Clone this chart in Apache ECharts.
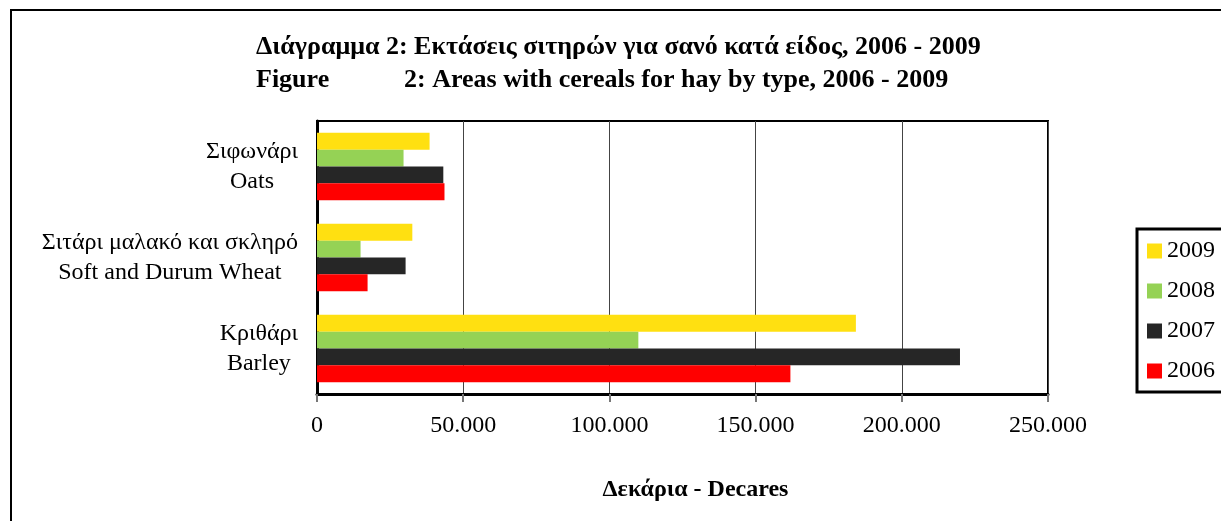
<!DOCTYPE html>
<html>
<head>
<meta charset="utf-8">
<script src="https://cdn.jsdelivr.net/npm/echarts@6/dist/echarts.min.js"></script>
<style>
  html, body { margin: 0; padding: 0; background: #fff; }
  #main { width: 1221px; height: 521px; }
</style>
</head>
<body>
<div id="main"></div>
<script>
// κατηγορίες (από κάτω προς τα πάνω)
var categories = ['Κριθάρι\nBarley', 'Σιτάρι μαλακό και σκληρό\nSoft and Durum Wheat', 'Σιφωνάρι\nOats'];
var years = ['2009', '2008', '2007', '2006'];
var y2006 = [161900, 17300, 43600];
var y2007 = [219900, 30300, 43200];
var y2008 = [109900, 14900, 29600];
var y2009 = [184300, 32600, 38500];
var xTicks = [0, 50000, 100000, 150000, 200000, 250000];

var colors = {'2006': '#FF0000', '2007': '#262626', '2008': '#95D255', '2009': '#FFE011'};
var values = {'2006': y2006, '2007': y2007, '2008': y2008, '2009': y2009};
var serif = '"Liberation Serif", "DejaVu Serif", serif';

var chart = echarts.init(document.getElementById('main'));

function fmt(v) {
    return String(v).replace(/\B(?=(\d{3})+(?!\d))/g, '.');
}

// η πρώτη σειρά μπαίνει πάνω στη ζώνη, γι' αυτό 2009 πρώτο
var series = years.map(function (y) {
    return {
        name: y,
        type: 'bar',
        data: values[y],
        barGap: '0%',
        barCategoryGap: '26%',
        itemStyle: { color: colors[y] }
    };
});

var option = {
    backgroundColor: '#fff',
    animation: false,
    title: [{
        left: 256,
        top: 34,
        padding: 0,
        text: 'Διάγραμμα 2: Εκτάσεις σιτηρών για σανό κατά είδος, 2006 - 2009',
        textStyle: { fontFamily: serif, fontSize: 26, fontWeight: 'bold', color: '#000' }
    }, {
        left: 256,
        top: 67,
        padding: 0,
        text: '{a|Figure}{b|2: Areas with cereals for hay by type, 2006 - 2009}',
        textStyle: {
            fontFamily: serif, fontSize: 26, fontWeight: 'bold', color: '#000',
            rich: {
                a: { width: 148, fontFamily: serif, fontSize: 26, fontWeight: 'bold', color: '#000' },
                b: { fontFamily: serif, fontSize: 26, fontWeight: 'bold', color: '#000' }
            }
        }
    }],
    graphic: [{
        type: 'rect',
        shape: { x: 11, y: 10, width: 1400, height: 700 },
        style: { fill: 'none', stroke: '#000', lineWidth: 2 },
        silent: true
    }],
    legend: {
        orient: 'vertical',
        left: 1137,
        top: 229,
        data: ['2009', '2008', '2007', '2006'],
        icon: 'rect',
        itemWidth: 15,
        itemHeight: 15,
        itemGap: 16,
        padding: [10, 40, 9, 10],
        borderColor: '#000',
        borderWidth: 3,
        textStyle: { fontFamily: serif, fontSize: 24, color: '#000', lineHeight: 24 }
    },
    grid: {
        left: 317,
        right: 173,
        top: 121,
        bottom: 127,
        show: true,
        borderColor: '#000',
        borderWidth: 2
    },
    xAxis: {
        type: 'value',
        min: 0,
        max: 250000,
        interval: 50000,
        name: 'Δεκάρια - Decares',
        nameLocation: 'middle',
        nameGap: 84,
        nameTextStyle: { fontFamily: serif, fontSize: 24, fontWeight: 'bold', color: '#000', padding: [0, 0, 0, 26] },
        axisLine: { show: true, lineStyle: { color: '#000', width: 3 } },
        axisTick: { show: true, length: 8, lineStyle: { color: '#777', width: 2 } },
        axisLabel: {
            margin: 20,
            fontFamily: serif, fontSize: 24, color: '#000',
            formatter: function (v) { return xTicks.indexOf(v) >= 0 ? fmt(v) : ''; }
        },
        splitLine: { show: true, lineStyle: { color: '#444', width: 1 } }
    },
    yAxis: {
        type: 'category',
        data: categories,
        axisLine: { show: true, lineStyle: { color: '#000', width: 3 } },
        axisTick: { show: false },
        axisLabel: {
            margin: 19,
            fontFamily: serif, fontSize: 24, color: '#000',
            lineHeight: 30,
            formatter: function (v) {
                return v.split('\n').map(function (s) { return '{c|' + s + '}'; }).join('\n');
            },
            rich: {
                c: { align: 'center', fontFamily: serif, fontSize: 24, color: '#000', lineHeight: 30 }
            }
        }
    },
    series: series
};

chart.setOption(option);
</script>
</body>
</html>
